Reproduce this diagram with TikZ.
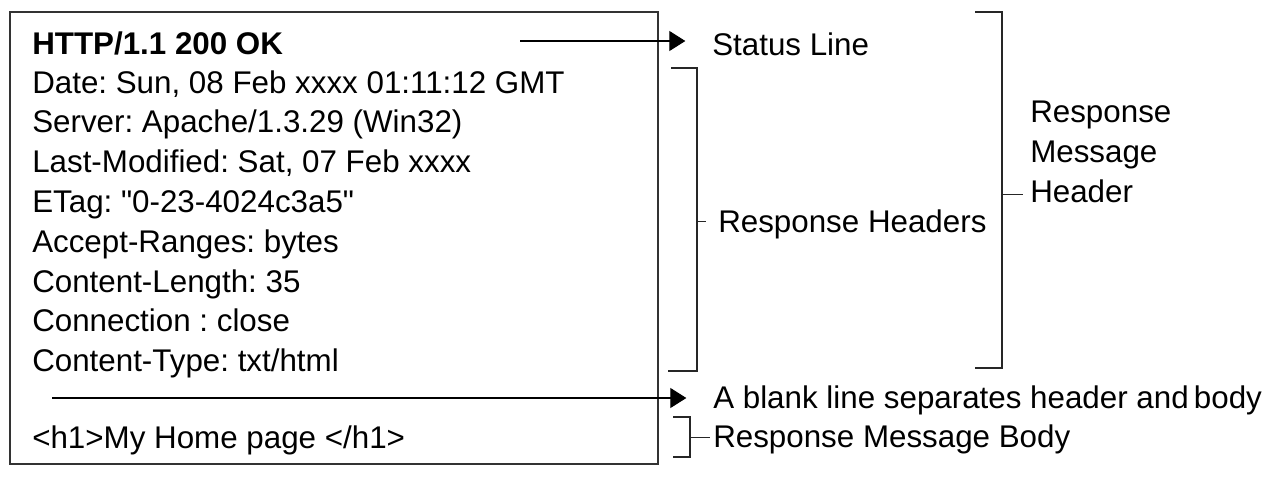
\documentclass[tikz,border=0pt]{standalone}
\usepackage{fontspec}
\setmainfont{Liberation Sans}[Ligatures=TeXOff]
\usetikzlibrary{arrows.meta, positioning}
\frenchspacing

\begin{document}
\begin{tikzpicture}[x=0.75pt, y=-0.75pt,
  txt/.style={font=\fontsize{23.5}{30}\selectfont, inner sep=0pt, anchor=base west},
  frame/.style={draw=black!80, line width=1.1pt},
  brace/.style={draw=black!85, line width=1.1pt},
  tick/.style={draw=black!85, line width=0.7pt},
  arr/.style={-{Triangle[length=12pt, width=15pt]}, line width=0.8pt, shorten >=20pt}]
  \useasboundingbox (0,0) rectangle (1275,476);

  %Define nodes
  \node[txt, font=\fontsize{23.5}{30}\selectfont\bfseries] (status) at (32,54) {HTTP/1.1 200 OK};
  \node[txt] (date) at (32,93) {Date: Sun, 08 Feb xxxx 01:11:12 GMT};
  \node[txt] (server) at (32,132) {Server: Apache/1.3.29 (Win32)};
  \node[txt] (lastmod) at (32,172) {Last-Modified: Sat, 07 Feb xxxx};
  \node[txt] (etag) at (32,212) {ETag: "0-23-4024c3a5"};
  \node[txt] (ranges) at (32,252) {Accept-Ranges: bytes};
  \node[txt] (length) at (32,292) {Content-Length: 35};
  \node[txt] (conn) at (32,331) {Connection : close};
  \node[txt] (ctype) at (32,371) {Content-Type: txt/html};
  \node[txt] (body) at (32,448) {<h1>My Home page </h1>};

  % Labels
  \node[txt] (statuslbl) at (712,55) {Status Line};
  \node[txt] (hdrlbl) at (718,232) {Response Headers};
  \node[txt, anchor=west, align=left] (msglbl) at (1030,152) {Response\\Message\\Header};
  \node[txt] (blanklbl) at (713,408) {A blank line separates header and\,body};
  \node[txt] (bodylbl) at (713,447) {Response Message Body};

  % Message box
  \draw[frame] (10,12) rectangle (658,464);

  % Connect the nodes
  \coordinate (s0) at (520,41);
  \coordinate (b0) at (52,398);
  \draw[arr] (s0) -- (s0 -| statuslbl.west);
  \draw[arr] (b0) -- (b0 -| blanklbl.west);

  % Brackets
  \draw[brace] (671,68) -- (697,68) -- (697,371) -- (668,371);
  \draw[tick] (697,221) -- (706,221);
  \draw[brace] (975,12) -- (1002,12) -- (1002,368) -- (975,368);
  \draw[tick] (1002,194) -- (1023,194);
  \draw[brace] (673,417) -- (690,417) -- (690,457) -- (673,457);
  \draw[tick] (690,437) -- (710,437);

\end{tikzpicture}
\end{document}
